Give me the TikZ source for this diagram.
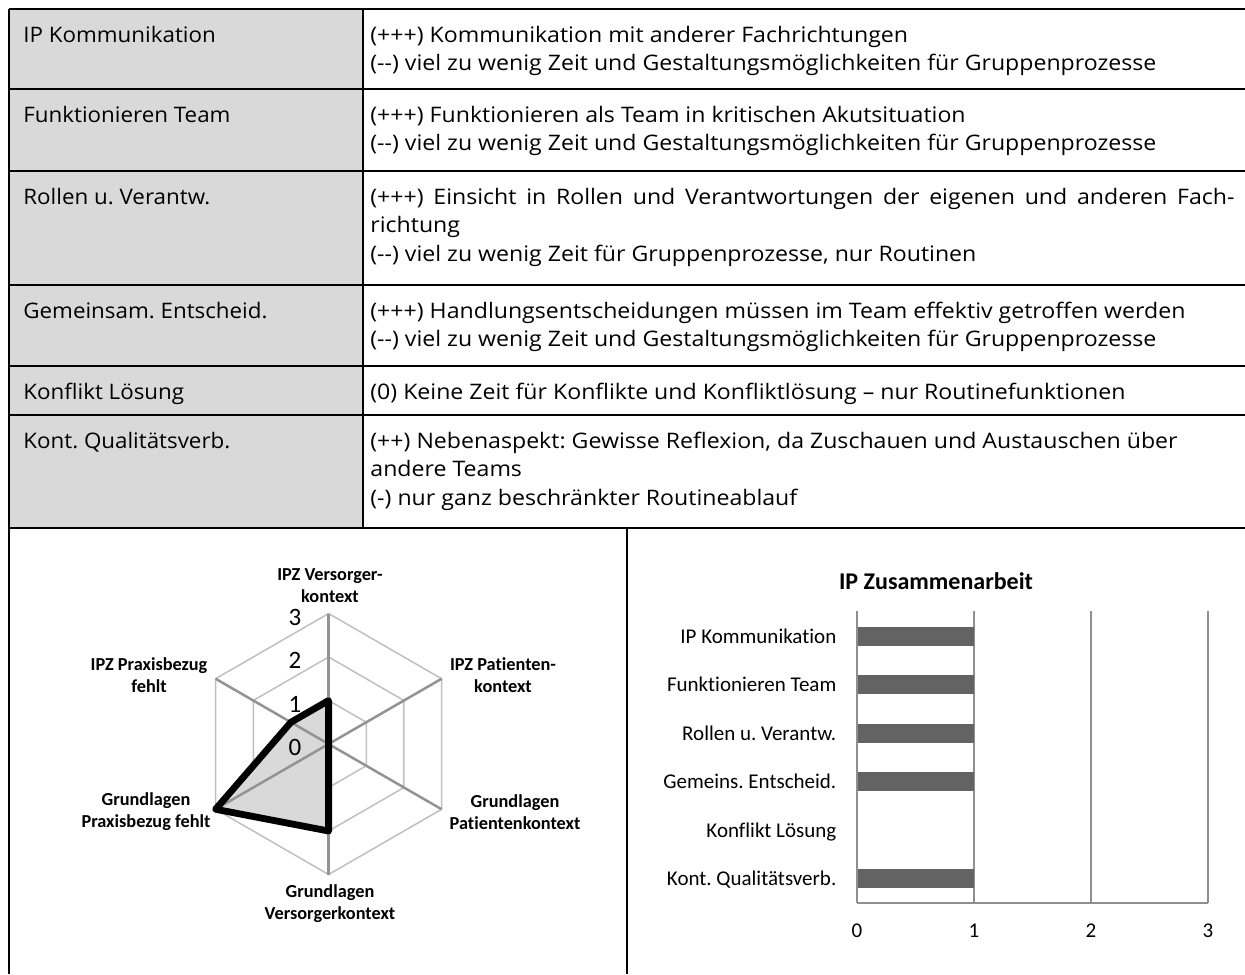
\documentclass[tikz,border=0pt]{standalone}
\usepackage{fontspec}
\setmainfont{Open Sans}
\newfontfamily\keyfont[FakeStretch=1.045]{Open Sans}
\newfontfamily\descfont[FakeStretch=1.08]{Open Sans}
\newfontfamily\chartfont[Ligatures={NoCommon}]{Carlito}
\newcommand\keysize{\keyfont\fontsize{10.7pt}{13pt}\selectfont}
\newcommand\descsize{\descfont\fontsize{10.7pt}{13pt}\selectfont}
\newcommand\radarfont{\chartfont\bfseries\fontsize{9.15pt}{11pt}\selectfont}
\newcommand\catfont{\chartfont\fontsize{10.5pt}{12pt}\selectfont}
\newcommand\tickfont{\chartfont\fontsize{12.5pt}{14pt}\selectfont}
\newcommand\titlefont{\chartfont\bfseries\fontsize{12pt}{14pt}\selectfont}
\definecolor{cellgray}{HTML}{D9D9D9}
\definecolor{ringgray}{HTML}{BFBFBF}
\definecolor{spokegray}{HTML}{939393}
\definecolor{gridgray}{HTML}{8F8F8F}
\definecolor{bargray}{HTML}{636363}
\definecolor{areagray}{HTML}{D9D9D9}
\frenchspacing
\begin{document}
\begin{tikzpicture}[x=0.5pt,y=-0.5pt,
  tabline/.style={line width=1.35pt,black},
  keytext/.style={anchor=base west,inner sep=0pt,font=\keysize},
  celltext/.style={anchor=base west,inner sep=0pt,font=\descsize},
  ring/.style={line width=0.75pt,ringgray},
  spoke/.style={line width=1.25pt,spokegray},
  seriesline/.style={line width=3.4pt,black,line join=round},
  radarlabel/.style={align=center,inner sep=0pt,font=\radarfont},
  ticklabel/.style={inner sep=0pt,font=\tickfont},
  grid/.style={line width=1pt,gridgray},
  bar/.style={fill=bargray},
  catlabel/.style={anchor=base east,inner sep=0pt,font=\catfont},
  numlabel/.style={anchor=base,inner sep=0pt,font=\catfont}]
\useasboundingbox (0,0) rectangle (1245,974);

% ---------- table ----------
\fill[cellgray] (9,9) rectangle (363,528);
\foreach \yy in {9,89,171,285,366,415,528}
  \draw[tabline] (9,\yy) -- (1245,\yy);
\draw[tabline] (9,9) -- (9,974);
\draw[tabline] (363,9) -- (363,528);
\draw[tabline] (627,528) -- (627,974);

% left column
\node[keytext] (k1) at (23,42.6) {IP Kommunikation};
\node[keytext] (k2) at (23,122.6) {Funktionieren Team};
\node[keytext] (k3) at (23,204.6) {Rollen u. Verantw.};
\node[keytext] (k4) at (23,318.6) {Gemeinsam. Entscheid.};
\node[keytext] (k5) at (23,399.6) {Konflikt Lösung};
\node[keytext] (k6) at (23,448.6) {Kont. Qualitätsverb.};

% right column
\node[celltext] (d1a) at (370,42.6) {(+++) Kommunikation mit anderer Fachrichtungen};
\node[celltext] (d1b) at (370,70.9) {(-{}-) viel zu wenig Zeit und Gestaltungsmöglichkeiten für Gruppenprozesse};
\node[celltext] (d2a) at (370,122.6) {(+++) Funktionieren als Team in kritischen Akutsituation};
\node[celltext] (d2b) at (370,150.9) {(-{}-) viel zu wenig Zeit und Gestaltungsmöglichkeiten für Gruppenprozesse};
\node[celltext] (d3a) at (370,204.6) {\hbox to 432pt{(+++) Einsicht in Rollen und Verantwortungen der eigenen und anderen Fach-}};
\node[celltext] (d3b) at (370,232.9) {richtung};
\node[celltext] (d3c) at (370,261.2) {(-{}-) viel zu wenig Zeit für Gruppenprozesse, nur Routinen};
\node[celltext] (d4a) at (370,318.6) {(+++) Handlungsentscheidungen müssen im Team effektiv getroffen werden};
\node[celltext] (d4b) at (370,346.9) {(-{}-) viel zu wenig Zeit und Gestaltungsmöglichkeiten für Gruppenprozesse};
\node[celltext] (d5a) at (370,399.6) {(0) Keine Zeit für Konflikte und Konfliktlösung – nur Routinefunktionen};
\node[celltext] (d6a) at (370,448.6) {(++) Nebenaspekt: Gewisse Reflexion, da Zuschauen und Austauschen über};
\node[celltext] (d6b) at (370,476.9) {andere Teams};
\node[celltext] (d6c) at (370,505.2) {(-) nur ganz beschränkter Routineablauf};

% ---------- radar chart ----------
\begin{scope}[shift={(328.6,744)}]
  \foreach \r in {43.5,87,130.5}
    \draw[ring] (-90:\r) -- (-30:\r) -- (30:\r) -- (90:\r) -- (150:\r) -- (-150:\r) -- cycle;
  \fill[areagray] (-90:43.5) -- (0,0) -- (90:87) -- (150:130.5) -- (-150:43.5) -- cycle;
  \foreach \a in {-90,-30,30,90,150,-150}
    \draw[spoke] (0,0) -- (\a:130.5);
  \draw[seriesline] (-90:43.5) -- (0,0) -- (90:87) -- (150:130.5) -- (-150:43.5) -- cycle;
\end{scope}
\node[ticklabel] (t3) at (295,617) {3};
\node[ticklabel] (t2) at (295,660.5) {2};
\node[ticklabel] (t1) at (295,704) {1};
\node[ticklabel] (t0) at (295,747.5) {0};

\node[radarlabel] (ax1) at (330,585.3) {IPZ Versorger-\\kontext};
\node[radarlabel] (ax2) at (503,675.5) {IPZ Patienten-\\kontext};
\node[radarlabel] (ax3) at (515,811.7) {Grundlagen\\Patientenkontext};
\node[radarlabel] (ax4) at (330,904) {Grundlagen\\Versorgerkontext};
\node[radarlabel] (ax5) at (146,811.7) {Grundlagen\\Praxisbezug fehlt};
\node[radarlabel] (ax6) at (149,675.5) {IPZ Praxisbezug\\fehlt};

% ---------- bar chart ----------
\node[inner sep=0pt,font=\titlefont] (title) at (936,581) {IP Zusammenarbeit};
\foreach \xx in {857,974,1091,1208}
  \draw[grid] (\xx,611) -- (\xx,903);
\draw[grid] (857,903) -- (1208,903);
\foreach \i in {0,1,2,3,5}
  \fill[bar] (857,{636+\i*48.55-9.5}) rectangle (974,{636+\i*48.55+9.5});
\draw[grid] (857,611) -- (857,903);

\node[catlabel] (b1) at (836.7,643) {IP Kommunikation};
\node[catlabel] (b2) at (836.7,691.55) {Funktionieren Team};
\node[catlabel] (b3) at (836.7,740.1) {Rollen u. Verantw.};
\node[catlabel] (b4) at (836.7,788.65) {Gemeins. Entscheid.};
\node[catlabel] (b5) at (836.7,837.2) {Konflikt Lösung};
\node[catlabel] (b6) at (836.7,885.75) {Kont. Qualitätsverb.};

\node[numlabel] (n0) at (857,937.3) {0};
\node[numlabel] (n1) at (974,937.3) {1};
\node[numlabel] (n2) at (1091,937.3) {2};
\node[numlabel] (n3) at (1208,937.3) {3};
\end{tikzpicture}
\end{document}
